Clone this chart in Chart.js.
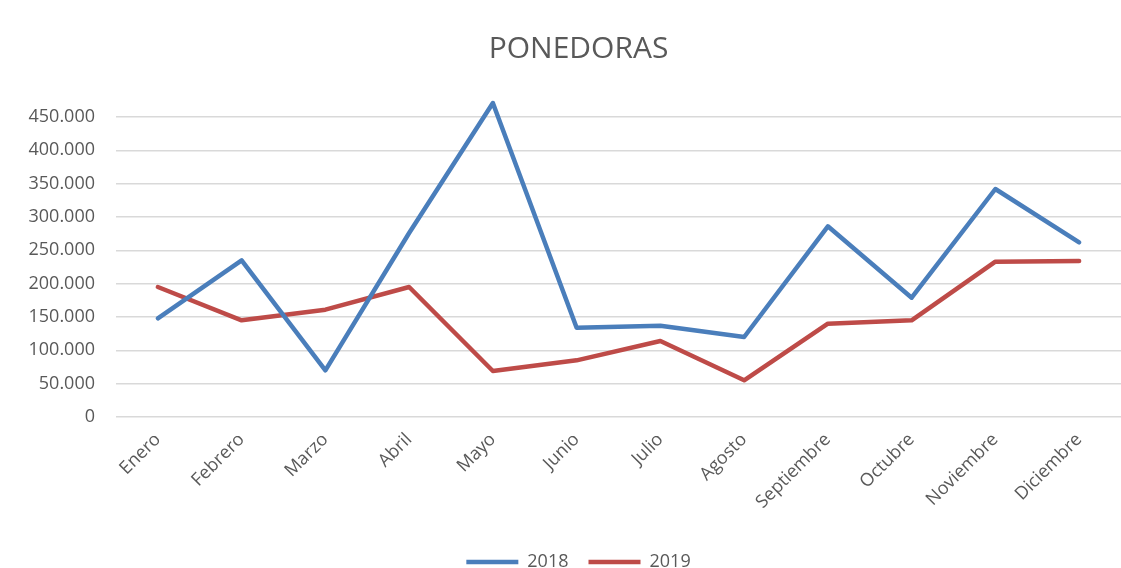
<!DOCTYPE html>
<html>
<head>
<meta charset="utf-8">
<script src="https://cdn.jsdelivr.net/npm/chart.js@4.4.1/dist/chart.umd.min.js"></script>
<style>
  html, body { margin: 0; padding: 0; background: #fff; overflow: hidden; }
  #wrap { width: 1121px; height: 568px; }
</style>
</head>
<body>
<div id="wrap"><canvas id="chart"></canvas></div>
<script>
// Data
const months = ['Enero', 'Febrero', 'Marzo', 'Abril', 'Mayo', 'Junio', 'Julio', 'Agosto', 'Septiembre', 'Octubre', 'Noviembre', 'Diciembre'];
const values2018 = [148000, 235000, 70000, 276000, 471000, 134000, 137000, 120000, 286000, 179000, 342000, 262000];
const values2019 = [195000, 145000, 161000, 195000, 69000, 85000, 114000, 55000, 140000, 145000, 233000, 234000];
const yMax = 450000;
const yStep = 50000;

const textColor = '#595959';
const font = "'Open Sans', sans-serif";

// 450000 -> "450.000"
const fmt = (v) => String(v).replace(/\B(?=(\d{3})+(?!\d))/g, '.');

const lineDataset = (label, data, color) => ({
  label,
  data,
  borderColor: color,
  backgroundColor: color,
  borderWidth: 4.5,
  borderCapStyle: 'round',
  borderJoinStyle: 'round',
  pointRadius: 0,
  tension: 0,
  fill: false,
  clip: false
});

// title and legend sit a bit right of the canvas centre in the original
const shiftBlocks = {
  id: 'shiftBlocks',
  afterLayout(chart) {
    [chart.titleBlock, chart.legend].forEach((b) => { if (b) b.left += 36; });
  }
};

new Chart(document.getElementById('chart'), {
  type: 'line',
  data: {
    labels: months,
    datasets: [
      lineDataset('2018', values2018, '#4a7ebb'),
      lineDataset('2019', values2019, '#be4b48')
    ]
  },
  plugins: [shiftBlocks],
  options: {
    responsive: true,
    maintainAspectRatio: false,
    animation: false,
    layout: { padding: { left: 0, right: 0, top: 0, bottom: -13 } },
    plugins: {
      title: {
        display: true,
        text: 'PONEDORAS',
        color: textColor,
        font: { family: font, size: 30, weight: 'normal' },
        padding: { top: 31, bottom: 50 }
      },
      legend: {
        position: 'bottom',
        labels: {
          color: textColor,
          font: { family: font, size: 18 },
          usePointStyle: true,
          pointStyle: 'line',
          pointStyleWidth: 52,
          padding: 20
        }
      },
      tooltip: { enabled: false }
    },
    scales: {
      x: {
        offset: true,
        grid: { display: false },
        border: { display: false },
        ticks: {
          color: textColor,
          font: { family: font, size: 18 },
          minRotation: 45,
          maxRotation: 45,
          padding: 4
        },
        afterFit: (scale) => { scale.height = 116; }
      },
      y: {
        min: 0,
        max: yMax,
        grid: { color: '#d9d9d9', lineWidth: 1.5, drawTicks: false },
        border: { display: false },
        ticks: {
          stepSize: yStep,
          color: textColor,
          font: { family: font, size: 18 },
          padding: 21,
          callback: (v) => fmt(v)
        },
        afterFit: (scale) => { scale.width = 116; }
      }
    }
  }
});
</script>
</body>
</html>
